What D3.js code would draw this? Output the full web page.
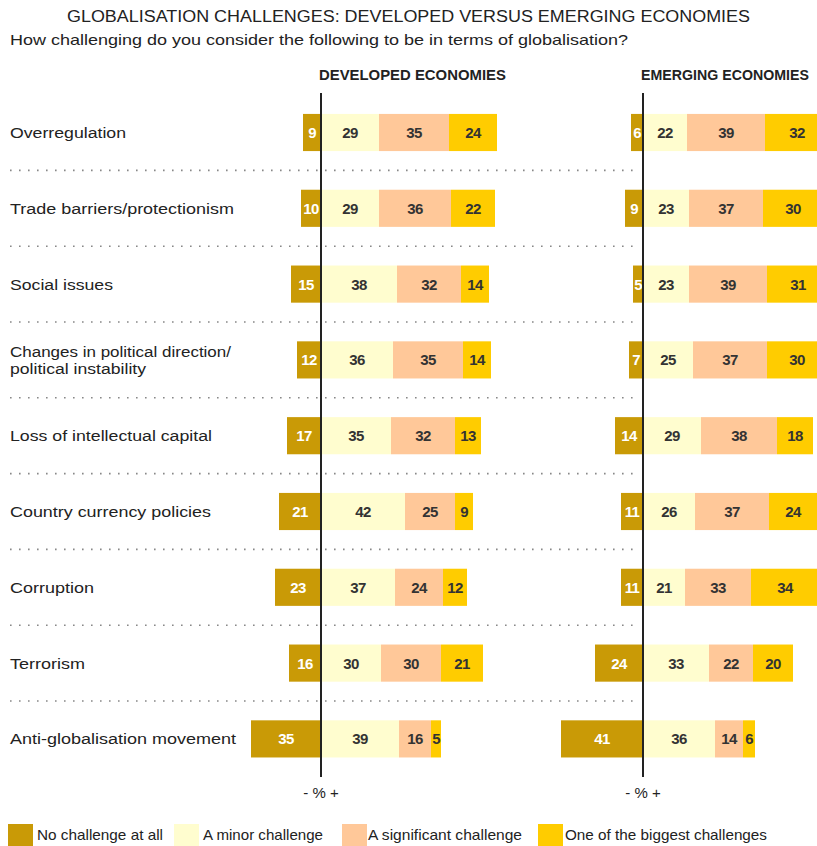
<!DOCTYPE html>
<html>
<head>
<meta charset="utf-8">
<script src="https://cdn.jsdelivr.net/npm/d3@7"></script>
<style>
  html, body { margin: 0; padding: 0; background: #fff; }
  svg { display: block; }
  text { font-family: "Liberation Sans", Arial, sans-serif; }
</style>
</head>
<body>
<div id="chart"></div>
<script>
// Survey answers, percent of respondents
const categories = [
  ["Overregulation"],
  ["Trade barriers/protectionism"],
  ["Social issues"],
  ["Changes in political direction/", "political instability"],
  ["Loss of intellectual capital"],
  ["Country currency policies"],
  ["Corruption"],
  ["Terrorism"],
  ["Anti-globalisation movement"]
];
const responses = ["No challenge at all", "A minor challenge", "A significant challenge", "One of the biggest challenges"];
const colors = ["#C99A06", "#FFFDCF", "#FFC899", "#FFCC00"];

const developedNone    = [9, 10, 15, 12, 17, 21, 23, 16, 35];
const developedMinor   = [29, 29, 38, 36, 35, 42, 37, 30, 39];
const developedSignif  = [35, 36, 32, 35, 32, 25, 24, 30, 16];
const developedBiggest = [24, 22, 14, 14, 13, 9, 12, 21, 5];

const emergingNone    = [6, 9, 5, 7, 14, 11, 11, 24, 41];
const emergingMinor   = [22, 23, 23, 25, 29, 26, 21, 33, 36];
const emergingSignif  = [39, 37, 39, 37, 38, 37, 33, 22, 14];
const emergingBiggest = [32, 30, 31, 30, 18, 24, 34, 20, 6];

const panels = [
  { title: "DEVELOPED ECONOMIES", zero: 321, titleW: 187, series: [developedNone, developedMinor, developedSignif, developedBiggest] },
  { title: "EMERGING ECONOMIES",  zero: 643, titleW: 168, series: [emergingNone, emergingMinor, emergingSignif, emergingBiggest] }
];

const W = 817, H = 846;
const svg = d3.select("#chart").append("svg").attr("width", W).attr("height", H);

// Titles (set width so the condensed lettering spans the same run)
svg.append("text").attr("x", 408.5).attr("y", 22).attr("text-anchor", "middle")
  .attr("font-size", 16).attr("fill", "#222")
  .attr("textLength", 683).attr("lengthAdjust", "spacingAndGlyphs")
  .text("GLOBALISATION CHALLENGES: DEVELOPED VERSUS EMERGING ECONOMIES");
svg.append("text").attr("x", 10).attr("y", 45)
  .attr("font-size", 15).attr("fill", "#222")
  .attr("textLength", 618).attr("lengthAdjust", "spacingAndGlyphs")
  .text("How challenging do you consider the following to be in terms of globalisation?");

// Rows
const y = d3.scaleBand()
  .domain(d3.range(categories.length))
  .range([94.6, 776.8])
  .paddingInner(0.51)
  .paddingOuter(0.255);
const step = y.step();

// Dotted separators between rows
svg.append("g").selectAll("line")
  .data(d3.range(categories.length - 1))
  .join("line")
  .attr("x1", 10).attr("x2", 640)
  .attr("y1", i => y(i) + y.bandwidth() / 2 + step / 2)
  .attr("y2", i => y(i) + y.bandwidth() / 2 + step / 2)
  .attr("stroke", "#888").attr("stroke-width", 1.6)
  .attr("stroke-dasharray", "1.6,7.4");

// Row labels, each line stretched to its run length
const labelRuns = [[116], [224], [103], [221, 136], [202], [201], [84], [75], [226]];
const labels = svg.append("g").selectAll("text")
  .data(categories.map((lines, i) => lines.map((t, j) => ({ t, w: labelRuns[i][j] }))))
  .join("text")
  .attr("x", 10)
  .attr("y", (d, i) => y(i) + y.bandwidth() / 2 - (d.length - 1) * 8.5 + 5.5)
  .attr("font-size", 15.5).attr("fill", "#222");
labels.selectAll("tspan")
  .data(d => d)
  .join("tspan")
  .attr("x", 10)
  .attr("dy", (d, j) => j === 0 ? 0 : 17)
  .attr("textLength", d => d.w).attr("lengthAdjust", "spacingAndGlyphs")
  .text(d => d.t);

panels.forEach(p => {
  const x = d3.scaleLinear().domain([0, 100]).range([p.zero, p.zero + 200]);
  const g = svg.append("g");

  // Panel heading, squeezed horizontally to its run length
  const head = g.append("text")
    .attr("font-size", 15).attr("font-weight", "bold").attr("fill", "#222")
    .text(p.title);
  const natural = head.node().getComputedTextLength();
  head.attr("transform", `translate(${p.zero - 2},80) scale(${p.titleW / natural},1)`);

  categories.forEach((c, i) => {
    const vals = p.series.map(s => s[i]);
    const segs = [];
    let pos = 0;
    vals.forEach((v, k) => {
      if (k === 0) segs.push({ k, v, a: -v, b: 0 });
      else { segs.push({ k, v, a: pos, b: pos + v }); pos += v; }
    });
    const row = g.append("g");
    row.selectAll("rect").data(segs).join("rect")
      .attr("x", d => x(d.a))
      .attr("width", d => x(d.b) - x(d.a))
      .attr("y", y(i))
      .attr("height", y.bandwidth())
      .attr("fill", d => colors[d.k]);
    row.selectAll("text").data(segs).join("text")
      .attr("x", d => (x(d.a) + x(d.b)) / 2)
      .attr("y", y(i) + y.bandwidth() / 2 + 5.5)
      .attr("text-anchor", "middle")
      .attr("font-size", 15).attr("font-weight", "bold")
      .attr("letter-spacing", -0.6)
      .attr("fill", d => d.k === 0 ? "#fff" : "#333")
      .text(d => d.v);
  });

  // Zero axis
  g.append("line")
    .attr("x1", x(0)).attr("x2", x(0))
    .attr("y1", 93).attr("y2", 777)
    .attr("stroke", "#222").attr("stroke-width", 2);
  g.append("text").attr("x", x(0)).attr("y", 798)
    .attr("text-anchor", "middle").attr("font-size", 15).attr("fill", "#222")
    .text("- % +");
});

// Legend
const legendItems = [
  { sx: 8,   tx: 37,  tw: 126 },
  { sx: 174, tx: 203, tw: 120 },
  { sx: 342, tx: 368, tw: 154 },
  { sx: 538, tx: 565, tw: 202 }
];
const lg = svg.append("g");
lg.selectAll("rect").data(legendItems).join("rect")
  .attr("x", d => d.sx).attr("y", 824).attr("width", 25).attr("height", 22)
  .attr("fill", (d, i) => colors[i]);
lg.selectAll("text").data(legendItems).join("text")
  .attr("x", d => d.tx).attr("y", 840)
  .attr("font-size", 15).attr("fill", "#222")
  .attr("textLength", d => d.tw).attr("lengthAdjust", "spacingAndGlyphs")
  .text((d, i) => responses[i]);
</script>
</body>
</html>
